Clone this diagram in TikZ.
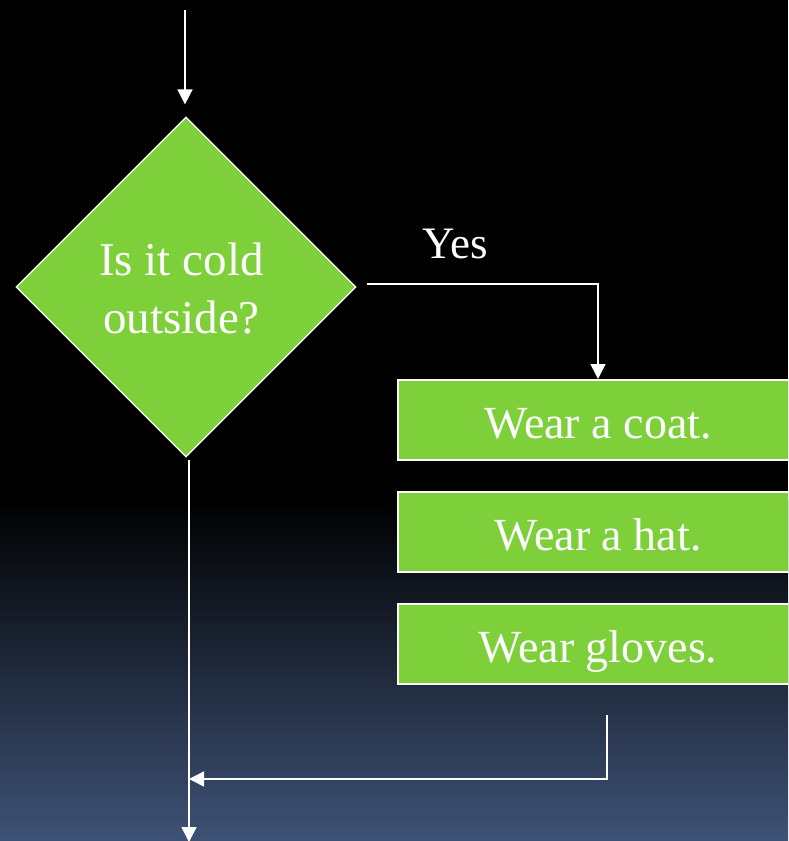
\documentclass[tikz,border=0pt]{standalone}
\usepackage{fontspec}
\setmainfont{Liberation Serif}
\usetikzlibrary{shapes.geometric,arrows.meta}
\definecolor{boxgreen}{RGB}{126,208,59}
\definecolor{bgblue}{RGB}{62,82,118}
\tikzset{
  flow/.style={draw=white, line width=1.6pt, -{Triangle[length=15pt,width=15pt]}},
  decision/.style={diamond, aspect=1, fill=boxgreen, draw=white, line width=1.2pt,
    minimum width=340pt, minimum height=340pt, inner sep=0pt, text=white,
    font=\fontsize{47}{58}\selectfont, align=center, text height=92pt, text depth=0pt},
  actionbox/.style={rectangle, fill=boxgreen, draw=white, line width=2pt,
    minimum width=400pt, minimum height=80pt, inner sep=0pt, text=white,
    font=\fontsize{46}{55}\selectfont, text height=37pt, text depth=0pt},
  lbl/.style={text=white, font=\fontsize{45}{50}\selectfont, inner sep=0pt}
}
\begin{document}
\begin{tikzpicture}[x=1pt,y=-1pt]
  \useasboundingbox (0,0) rectangle (788,841);
  \fill[black] (0,0) rectangle (788,505);
  \shade[top color=black, bottom color=bgblue] (0,500) rectangle (788,841);
  \begin{scope}
  \clip (0,0) rectangle (788,841);
  % nodes
  \node[decision] (d) at (186,287) {\hspace*{-9pt}Is it cold\\\hspace*{-9pt}outside?};
  \node[actionbox] (b1) at (598,420) {Wear a coat.};
  \node[actionbox] (b2) at (598,532) {Wear a hat.};
  \node[actionbox] (b3) at (598,644) {Wear gloves.};
  \node[lbl] (yes) at (455,244) {Yes};
  % coordinates
  \coordinate (top) at (185,10);
  \coordinate (yesstart) at (367,284);
  \coordinate (loopstart) at (607,715);
  \coordinate (loopcorner) at (607,779);
  \coordinate (merge) at (189,779);
  \coordinate (mainstart) at (189,460);
  \coordinate (bottom) at (189,842);
  % connectors
  \draw[flow, shorten >=12pt] (top) -- (d.north -| top);
  \draw[flow] (yesstart) -| (b1.north);
  \draw[flow] (loopstart) -- (loopcorner) -- (merge);
  \draw[flow] (mainstart) -- (bottom);
  \end{scope}
\end{tikzpicture}
\end{document}
